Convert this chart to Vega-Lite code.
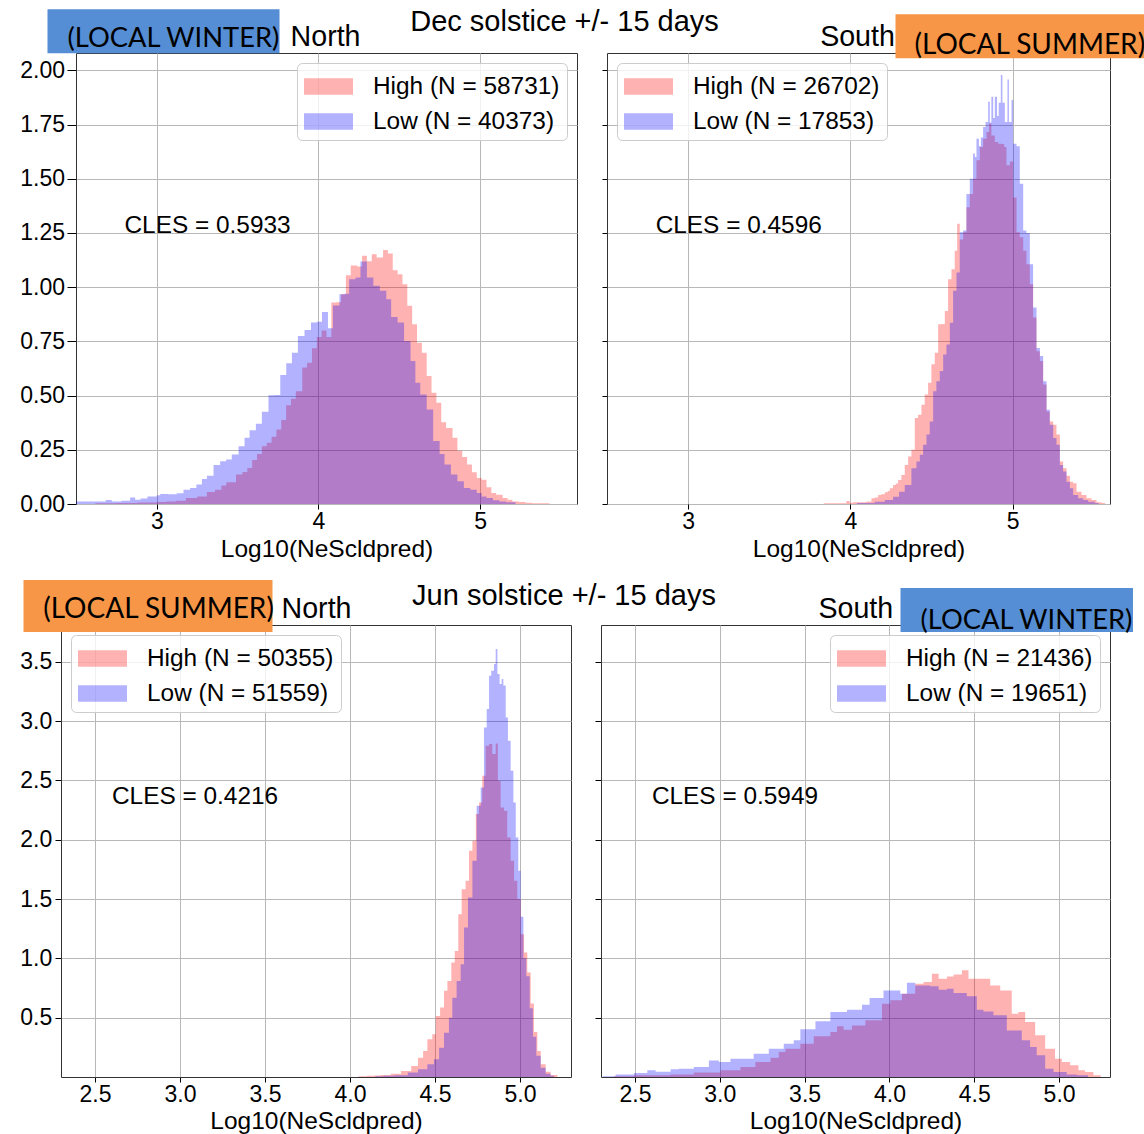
{
"$schema": "https://vega.github.io/schema/vega-lite/v6.json",
"padding": {"left": 19, "top": 7, "right": 0, "bottom": 0},
"background": "white",
"config": {
  "view": {"stroke": "#333333", "strokeWidth": 1},
  "axis": {"labelFont": "Liberation Sans", "labelFontSize": 23, "labelColor": "#000000", "titleFont": "Liberation Sans", "titleFontSize": 24.5, "titleFontWeight": "normal", "titleColor": "#000000", "tickColor": "#000000", "tickWidth": 1, "domain": false, "gridColor": "#b8b8b8", "gridWidth": 1, "gridOpacity": 1, "labelFlush": false, "labelOverlap": false},
  "legend": {"offset": 10, "padding": 7, "rowPadding": 7, "labelFontSize": 24.4, "labelFont": "Liberation Sans", "labelColor": "#000000", "symbolOpacity": 0.3, "symbolStrokeWidth": 0, "symbolOffset": 8, "labelOffset": 28, "fillColor": "rgba(255,255,255,0.8)", "strokeColor": "#cccccc", "cornerRadius": 5, "title": null, "labelLimit": 400},
  "text": {"font": "Liberation Sans", "color": "#000000"}
},
"datasets": {
  "tlH": [{"x":2.62,"y":0.003},{"x":2.75,"y":0.005},{"x":2.88,"y":0.007},{"x":3.0,"y":0.009},{"x":3.06,"y":0.012},{"x":3.12,"y":0.015},{"x":3.18,"y":0.028},{"x":3.25,"y":0.035},{"x":3.31,"y":0.055},{"x":3.36,"y":0.066},{"x":3.40,"y":0.085},{"x":3.43,"y":0.10},{"x":3.49,"y":0.136},{"x":3.53,"y":0.148},{"x":3.56,"y":0.166},{"x":3.59,"y":0.203},{"x":3.62,"y":0.231},{"x":3.65,"y":0.266},{"x":3.68,"y":0.282},{"x":3.71,"y":0.31},{"x":3.74,"y":0.344},{"x":3.77,"y":0.387},{"x":3.80,"y":0.456},{"x":3.83,"y":0.485},{"x":3.86,"y":0.52},{"x":3.90,"y":0.629},{"x":3.93,"y":0.652},{"x":3.96,"y":0.718},{"x":3.99,"y":0.77},{"x":4.02,"y":0.80},{"x":4.05,"y":0.77},{"x":4.08,"y":0.929},{"x":4.11,"y":0.93},{"x":4.14,"y":0.967},{"x":4.17,"y":1.055},{"x":4.20,"y":1.10},{"x":4.24,"y":1.095},{"x":4.27,"y":1.145},{"x":4.30,"y":1.12},{"x":4.33,"y":1.152},{"x":4.36,"y":1.137},{"x":4.40,"y":1.172},{"x":4.43,"y":1.155},{"x":4.46,"y":1.078},{"x":4.49,"y":1.06},{"x":4.52,"y":1.013},{"x":4.55,"y":0.914},{"x":4.58,"y":0.829},{"x":4.61,"y":0.744},{"x":4.64,"y":0.698},{"x":4.67,"y":0.59},{"x":4.70,"y":0.513},{"x":4.73,"y":0.467},{"x":4.76,"y":0.377},{"x":4.79,"y":0.351},{"x":4.83,"y":0.305},{"x":4.86,"y":0.246},{"x":4.89,"y":0.217},{"x":4.92,"y":0.182},{"x":4.95,"y":0.146},{"x":4.98,"y":0.12},{"x":5.01,"y":0.112},{"x":5.04,"y":0.077},{"x":5.07,"y":0.051},{"x":5.10,"y":0.043},{"x":5.14,"y":0.028},{"x":5.17,"y":0.02},{"x":5.20,"y":0.012},{"x":5.24,"y":0.009},{"x":5.28,"y":0.006},{"x":5.32,"y":0.004},{"x":5.43,"y":0}],
  "tlL": [{"x":2.50,"y":0.012},{"x":2.684,"y":0.018},{"x":2.721,"y":0.012},{"x":2.78,"y":0.015},{"x":2.835,"y":0.03},{"x":2.866,"y":0.02},{"x":2.90,"y":0.025},{"x":2.942,"y":0.035},{"x":3.0,"y":0.04},{"x":3.021,"y":0.046},{"x":3.07,"y":0.045},{"x":3.124,"y":0.05},{"x":3.165,"y":0.066},{"x":3.206,"y":0.074},{"x":3.245,"y":0.09},{"x":3.279,"y":0.115},{"x":3.31,"y":0.13},{"x":3.351,"y":0.18},{"x":3.392,"y":0.197},{"x":3.429,"y":0.205},{"x":3.464,"y":0.228},{"x":3.506,"y":0.266},{"x":3.543,"y":0.305},{"x":3.574,"y":0.34},{"x":3.613,"y":0.37},{"x":3.65,"y":0.425},{"x":3.691,"y":0.502},{"x":3.727,"y":0.503},{"x":3.764,"y":0.595},{"x":3.801,"y":0.649},{"x":3.836,"y":0.698},{"x":3.873,"y":0.775},{"x":3.914,"y":0.803},{"x":3.954,"y":0.837},{"x":3.99,"y":0.84},{"x":4.022,"y":0.886},{"x":4.059,"y":0.81},{"x":4.09,"y":0.915},{"x":4.13,"y":0.967},{"x":4.16,"y":0.97},{"x":4.19,"y":1.037},{"x":4.23,"y":1.045},{"x":4.26,"y":1.118},{"x":4.30,"y":1.045},{"x":4.34,"y":1.006},{"x":4.38,"y":0.983},{"x":4.42,"y":0.944},{"x":4.45,"y":0.863},{"x":4.49,"y":0.837},{"x":4.53,"y":0.752},{"x":4.57,"y":0.659},{"x":4.60,"y":0.559},{"x":4.63,"y":0.505},{"x":4.67,"y":0.436},{"x":4.71,"y":0.29},{"x":4.75,"y":0.231},{"x":4.78,"y":0.182},{"x":4.82,"y":0.136},{"x":4.86,"y":0.105},{"x":4.90,"y":0.074},{"x":4.94,"y":0.066},{"x":4.98,"y":0.051},{"x":5.01,"y":0.035},{"x":5.04,"y":0.028},{"x":5.08,"y":0.017},{"x":5.12,"y":0.012},{"x":5.16,"y":0.008},{"x":5.22,"y":0}],
  "trH": [{"x":3.836,"y":0.003},{"x":3.95,"y":0.004},{"x":3.975,"y":0.014},{"x":3.995,"y":0.006},{"x":4.016,"y":0.008},{"x":4.10,"y":0.012},{"x":4.13,"y":0.026},{"x":4.15,"y":0.03},{"x":4.171,"y":0.042},{"x":4.19,"y":0.045},{"x":4.212,"y":0.054},{"x":4.23,"y":0.06},{"x":4.243,"y":0.073},{"x":4.263,"y":0.088},{"x":4.28,"y":0.095},{"x":4.294,"y":0.111},{"x":4.314,"y":0.134},{"x":4.335,"y":0.18},{"x":4.356,"y":0.219},{"x":4.376,"y":0.25},{"x":4.397,"y":0.397},{"x":4.417,"y":0.412},{"x":4.438,"y":0.458},{"x":4.458,"y":0.505},{"x":4.479,"y":0.559},{"x":4.499,"y":0.644},{"x":4.52,"y":0.698},{"x":4.541,"y":0.829},{"x":4.561,"y":0.83},{"x":4.582,"y":0.89},{"x":4.602,"y":1.037},{"x":4.623,"y":1.083},{"x":4.643,"y":1.168},{"x":4.658,"y":1.292},{"x":4.674,"y":1.22},{"x":4.695,"y":1.253},{"x":4.715,"y":1.369},{"x":4.736,"y":1.43},{"x":4.756,"y":1.5},{"x":4.777,"y":1.585},{"x":4.798,"y":1.647},{"x":4.818,"y":1.685},{"x":4.839,"y":1.716},{"x":4.855,"y":1.755},{"x":4.869,"y":1.70},{"x":4.89,"y":1.67},{"x":4.911,"y":1.662},{"x":4.931,"y":1.66},{"x":4.948,"y":1.647},{"x":4.962,"y":1.562},{"x":4.983,"y":1.58},{"x":5.003,"y":1.414},{"x":5.024,"y":1.253},{"x":5.044,"y":1.23},{"x":5.065,"y":1.168},{"x":5.085,"y":1.106},{"x":5.106,"y":1.014},{"x":5.126,"y":0.86},{"x":5.147,"y":0.705},{"x":5.168,"y":0.659},{"x":5.188,"y":0.551},{"x":5.209,"y":0.427},{"x":5.229,"y":0.381},{"x":5.25,"y":0.366},{"x":5.27,"y":0.32},{"x":5.291,"y":0.196},{"x":5.311,"y":0.165},{"x":5.332,"y":0.13},{"x":5.353,"y":0.103},{"x":5.373,"y":0.096},{"x":5.394,"y":0.057},{"x":5.424,"y":0.042},{"x":5.455,"y":0.026},{"x":5.486,"y":0.018},{"x":5.517,"y":0.008},{"x":5.548,"y":0.005},{"x":5.57,"y":0}],
  "trL": [{"x":4.04,"y":0.005},{"x":4.13,"y":0.005},{"x":4.15,"y":0.01},{"x":4.212,"y":0.018},{"x":4.263,"y":0.034},{"x":4.30,"y":0.057},{"x":4.335,"y":0.088},{"x":4.376,"y":0.165},{"x":4.407,"y":0.196},{"x":4.428,"y":0.227},{"x":4.448,"y":0.273},{"x":4.469,"y":0.32},{"x":4.489,"y":0.381},{"x":4.51,"y":0.52},{"x":4.53,"y":0.566},{"x":4.551,"y":0.613},{"x":4.572,"y":0.69},{"x":4.592,"y":0.736},{"x":4.613,"y":0.836},{"x":4.633,"y":0.983},{"x":4.654,"y":1.068},{"x":4.674,"y":1.253},{"x":4.695,"y":1.261},{"x":4.715,"y":1.43},{"x":4.736,"y":1.5},{"x":4.756,"y":1.616},{"x":4.767,"y":1.60},{"x":4.777,"y":1.685},{"x":4.792,"y":1.65},{"x":4.804,"y":1.69},{"x":4.818,"y":1.739},{"x":4.833,"y":1.762},{"x":4.849,"y":1.855},{"x":4.859,"y":1.76},{"x":4.869,"y":1.878},{"x":4.88,"y":1.78},{"x":4.89,"y":1.878},{"x":4.904,"y":1.79},{"x":4.914,"y":1.85},{"x":4.927,"y":1.978},{"x":4.937,"y":1.85},{"x":4.952,"y":1.762},{"x":4.968,"y":1.958},{"x":4.977,"y":1.762},{"x":4.993,"y":1.863},{"x":5.003,"y":1.662},{"x":5.024,"y":1.65},{"x":5.044,"y":1.477},{"x":5.065,"y":1.261},{"x":5.085,"y":1.25},{"x":5.106,"y":1.106},{"x":5.126,"y":0.906},{"x":5.147,"y":0.72},{"x":5.168,"y":0.682},{"x":5.188,"y":0.566},{"x":5.209,"y":0.435},{"x":5.229,"y":0.366},{"x":5.25,"y":0.304},{"x":5.27,"y":0.273},{"x":5.291,"y":0.18},{"x":5.311,"y":0.15},{"x":5.332,"y":0.103},{"x":5.353,"y":0.073},{"x":5.373,"y":0.042},{"x":5.404,"y":0.026},{"x":5.435,"y":0.018},{"x":5.465,"y":0.01},{"x":5.506,"y":0.005},{"x":5.53,"y":0}],
  "blH": [{"x":4.05,"y":0.006},{"x":4.10,"y":0.01},{"x":4.14,"y":0.012},{"x":4.18,"y":0.017},{"x":4.24,"y":0.028},{"x":4.30,"y":0.05},{"x":4.36,"y":0.093},{"x":4.40,"y":0.163},{"x":4.43,"y":0.219},{"x":4.455,"y":0.318},{"x":4.484,"y":0.36},{"x":4.504,"y":0.515},{"x":4.53,"y":0.585},{"x":4.553,"y":0.726},{"x":4.573,"y":0.81},{"x":4.596,"y":0.965},{"x":4.616,"y":1.063},{"x":4.637,"y":1.372},{"x":4.657,"y":1.583},{"x":4.68,"y":1.654},{"x":4.70,"y":1.907},{"x":4.72,"y":1.991},{"x":4.74,"y":2.216},{"x":4.759,"y":2.314},{"x":4.778,"y":2.539},{"x":4.798,"y":2.792},{"x":4.818,"y":2.806},{"x":4.837,"y":2.722},{"x":4.857,"y":2.812},{"x":4.87,"y":2.497},{"x":4.886,"y":2.272},{"x":4.906,"y":2.244},{"x":4.925,"y":2.019},{"x":4.945,"y":1.822},{"x":4.965,"y":1.654},{"x":4.984,"y":1.50},{"x":5.004,"y":1.204},{"x":5.024,"y":1.05},{"x":5.043,"y":0.88},{"x":5.063,"y":0.62},{"x":5.082,"y":0.38},{"x":5.102,"y":0.219},{"x":5.122,"y":0.107},{"x":5.151,"y":0.045},{"x":5.18,"y":0.017},{"x":5.22,"y":0}],
  "blL": [{"x":4.15,"y":0.006},{"x":4.20,"y":0.011},{"x":4.26,"y":0.015},{"x":4.34,"y":0.037},{"x":4.40,"y":0.065},{"x":4.455,"y":0.107},{"x":4.494,"y":0.149},{"x":4.524,"y":0.247},{"x":4.553,"y":0.374},{"x":4.582,"y":0.50},{"x":4.602,"y":0.669},{"x":4.627,"y":0.81},{"x":4.651,"y":0.95},{"x":4.671,"y":1.26},{"x":4.694,"y":1.513},{"x":4.72,"y":1.822},{"x":4.745,"y":2.286},{"x":4.769,"y":2.441},{"x":4.788,"y":2.947},{"x":4.804,"y":3.102},{"x":4.818,"y":3.383},{"x":4.831,"y":3.425},{"x":4.847,"y":3.481},{"x":4.857,"y":3.608},{"x":4.867,"y":3.397},{"x":4.88,"y":3.313},{"x":4.892,"y":3.355},{"x":4.902,"y":3.299},{"x":4.916,"y":3.031},{"x":4.929,"y":2.835},{"x":4.945,"y":2.582},{"x":4.961,"y":2.314},{"x":4.975,"y":2.019},{"x":4.99,"y":1.738},{"x":5.004,"y":1.35},{"x":5.02,"y":1.0},{"x":5.037,"y":0.85},{"x":5.057,"y":0.58},{"x":5.076,"y":0.34},{"x":5.096,"y":0.18},{"x":5.122,"y":0.079},{"x":5.151,"y":0.028},{"x":5.18,"y":0.011},{"x":5.2,"y":0}],
  "brH": [{"x":2.376,"y":0.006},{"x":2.494,"y":0.014},{"x":2.71,"y":0.022},{"x":2.847,"y":0.037},{"x":3.004,"y":0.056},{"x":3.122,"y":0.084},{"x":3.21,"y":0.126},{"x":3.299,"y":0.163},{"x":3.348,"y":0.211},{"x":3.387,"y":0.239},{"x":3.475,"y":0.281},{"x":3.554,"y":0.343},{"x":3.652,"y":0.379},{"x":3.691,"y":0.427},{"x":3.73,"y":0.399},{"x":3.779,"y":0.435},{"x":3.858,"y":0.478},{"x":3.956,"y":0.618},{"x":4.005,"y":0.646},{"x":4.074,"y":0.702},{"x":4.152,"y":0.787},{"x":4.201,"y":0.80},{"x":4.25,"y":0.871},{"x":4.29,"y":0.829},{"x":4.339,"y":0.848},{"x":4.378,"y":0.865},{"x":4.427,"y":0.899},{"x":4.466,"y":0.829},{"x":4.505,"y":0.829},{"x":4.594,"y":0.772},{"x":4.653,"y":0.73},{"x":4.721,"y":0.534},{"x":4.76,"y":0.548},{"x":4.80,"y":0.463},{"x":4.859,"y":0.351},{"x":4.918,"y":0.239},{"x":4.976,"y":0.154},{"x":5.016,"y":0.126},{"x":5.065,"y":0.098},{"x":5.114,"y":0.056},{"x":5.153,"y":0.042},{"x":5.202,"y":0.014},{"x":5.245,"y":0}],
  "brL": [{"x":2.31,"y":0.006},{"x":2.386,"y":0.022},{"x":2.494,"y":0.034},{"x":2.573,"y":0.056},{"x":2.622,"y":0.045},{"x":2.71,"y":0.065},{"x":2.759,"y":0.07},{"x":2.847,"y":0.084},{"x":2.936,"y":0.14},{"x":2.995,"y":0.126},{"x":3.063,"y":0.154},{"x":3.20,"y":0.197},{"x":3.289,"y":0.239},{"x":3.377,"y":0.281},{"x":3.436,"y":0.309},{"x":3.475,"y":0.402},{"x":3.564,"y":0.469},{"x":3.652,"y":0.548},{"x":3.75,"y":0.567},{"x":3.838,"y":0.61},{"x":3.883,"y":0.666},{"x":3.965,"y":0.73},{"x":4.064,"y":0.702},{"x":4.103,"y":0.795},{"x":4.152,"y":0.772},{"x":4.24,"y":0.764},{"x":4.29,"y":0.736},{"x":4.339,"y":0.744},{"x":4.378,"y":0.708},{"x":4.456,"y":0.68},{"x":4.515,"y":0.567},{"x":4.554,"y":0.553},{"x":4.613,"y":0.52},{"x":4.692,"y":0.393},{"x":4.78,"y":0.309},{"x":4.829,"y":0.253},{"x":4.868,"y":0.183},{"x":4.918,"y":0.07},{"x":4.967,"y":0.042},{"x":5.045,"y":0.022},{"x":5.104,"y":0.014},{"x":5.17,"y":0}]
},
"resolve": {"scale": {"x": "independent", "y": "independent", "color": "independent"}, "legend": {"color": "independent"}},
"spacing": 17,
"vconcat": [
 {
  "hconcat": [
   {"width": 15, "height": 451, "view": {"stroke": null}, "data": {"values": []}, "mark": "rect", "encoding": {}},
   {
    "hconcat": [
     {
      "width": 501, "height": 451,
      "layer": [
       {"data": {"name": "tlH"}, "mark": {"type": "area", "interpolate": "step-after", "opacity": 0.3},
        "encoding": {
         "x": {"field": "x", "type": "quantitative", "scale": {"domain": [2.5, 5.6], "nice": false, "zero": false}, "axis": {"values": [3, 4, 5], "format": "d", "title": "Log10(NeScldpred)", "tickSize": 5, "labelPadding": 1.6, "titlePadding": 3.9}},
         "y": {"field": "y", "type": "quantitative", "stack": null, "scale": {"domain": [0, 2.08], "nice": false}, "axis": {"values": [0, 0.25, 0.5, 0.75, 1.0, 1.25, 1.5, 1.75, 2.0], "format": ".2f", "title": null, "tickSize": 9, "labelPadding": 2.5}},
         "color": {"datum": "High (N = 58731)", "scale": {"domain": ["High (N = 58731)", "Low (N = 40373)"], "range": ["#ff0000", "#0000ff"]}, "legend": {"orient": "top-right", "symbolType": "M-1.5,-0.5H1.5V0.5H-1.5Z", "symbolSize": 1067}}
        }},
       {"data": {"name": "tlL"}, "mark": {"type": "area", "interpolate": "step-after", "opacity": 0.3},
        "encoding": {
         "x": {"field": "x", "type": "quantitative", "scale": {"domain": [2.5, 5.6], "nice": false, "zero": false}},
         "y": {"field": "y", "type": "quantitative", "stack": null, "scale": {"domain": [0, 2.08], "nice": false}},
         "color": {"datum": "Low (N = 40373)"}
        }},
       {"data": {"values": [{"x": 2.3236, "x2": 3.7593, "y": 2.282, "y2": 2.079}]}, "mark": {"type": "rect", "color": "#558ED5"},
        "encoding": {"x": {"field": "x", "type": "quantitative"}, "x2": {"field": "x2"}, "y": {"field": "y", "type": "quantitative"}, "y2": {"field": "y2"}}},
       {"data": {"values": [{"x": 2.4474, "y": 2.1066, "t": "(LOCAL WINTER)"}]}, "mark": {"type": "text", "font": "Lato", "fontSize": 27.3, "align": "left", "baseline": "alphabetic"},
        "encoding": {"x": {"field": "x", "type": "quantitative"}, "y": {"field": "y", "type": "quantitative"}, "text": {"field": "t"}}},
       {"data": {"values": [{"x": 4.044, "y": 2.1112, "t": "North", "s": 28.6}, {"x": 5.5229, "y": 2.1803, "t": "Dec solstice +/- 15 days", "s": 29}]}, "mark": {"type": "text", "align": "center", "baseline": "alphabetic"},
        "encoding": {"x": {"field": "x", "type": "quantitative"}, "y": {"field": "y", "type": "quantitative"}, "text": {"field": "t"}, "size": {"field": "s", "type": "quantitative", "scale": null, "legend": null}}},
       {"data": {"values": [{"x": 2.8, "y": 1.25, "t": "CLES = 0.5933"}]}, "mark": {"type": "text", "fontSize": 24.4, "align": "left", "baseline": "alphabetic"},
        "encoding": {"x": {"field": "x", "type": "quantitative"}, "y": {"field": "y", "type": "quantitative"}, "text": {"field": "t"}}}
      ]
     },
     {
      "width": 503, "height": 451,
      "layer": [
       {"data": {"name": "trH"}, "mark": {"type": "area", "interpolate": "step-after", "opacity": 0.3},
        "encoding": {
         "x": {"field": "x", "type": "quantitative", "scale": {"domain": [2.5, 5.6], "nice": false, "zero": false}, "axis": {"values": [3, 4, 5], "format": "d", "title": "Log10(NeScldpred)", "tickSize": 5, "labelPadding": 1.6, "titlePadding": 3.9}},
         "y": {"field": "y", "type": "quantitative", "stack": null, "scale": {"domain": [0, 2.08], "nice": false}, "axis": {"values": [0, 0.25, 0.5, 0.75, 1.0, 1.25, 1.5, 1.75, 2.0], "labels": false, "title": null, "tickSize": 5}},
         "color": {"datum": "High (N = 26702)", "scale": {"domain": ["High (N = 26702)", "Low (N = 17853)"], "range": ["#ff0000", "#0000ff"]}, "legend": {"orient": "top-left", "symbolType": "M-1.5,-0.5H1.5V0.5H-1.5Z", "symbolSize": 1067}}
        }},
       {"data": {"name": "trL"}, "mark": {"type": "area", "interpolate": "step-after", "opacity": 0.3},
        "encoding": {
         "x": {"field": "x", "type": "quantitative", "scale": {"domain": [2.5, 5.6], "nice": false, "zero": false}},
         "y": {"field": "y", "type": "quantitative", "stack": null, "scale": {"domain": [0, 2.08], "nice": false}},
         "color": {"datum": "Low (N = 17853)"}
        }},
       {"data": {"values": [{"x": 4.278, "x2": 5.8095, "y": 2.2588, "y2": 2.0558}]}, "mark": {"type": "rect", "color": "#F79646"},
        "encoding": {"x": {"field": "x", "type": "quantitative"}, "x2": {"field": "x2"}, "y": {"field": "y", "type": "quantitative"}, "y2": {"field": "y2"}}},
       {"data": {"values": [{"x": 4.395, "y": 2.0756, "t": "(LOCAL SUMMER)"}]}, "mark": {"type": "text", "font": "Lato", "fontSize": 28, "align": "left", "baseline": "alphabetic"},
        "encoding": {"x": {"field": "x", "type": "quantitative"}, "y": {"field": "y", "type": "quantitative"}, "text": {"field": "t"}}},
       {"data": {"values": [{"x": 4.0438, "y": 2.1135, "t": "South"}]}, "mark": {"type": "text", "fontSize": 28.6, "align": "center", "baseline": "alphabetic"},
        "encoding": {"x": {"field": "x", "type": "quantitative"}, "y": {"field": "y", "type": "quantitative"}, "text": {"field": "t"}}},
       {"data": {"values": [{"x": 2.8, "y": 1.25, "t": "CLES = 0.4596"}]}, "mark": {"type": "text", "fontSize": 24.4, "align": "left", "baseline": "alphabetic"},
        "encoding": {"x": {"field": "x", "type": "quantitative"}, "y": {"field": "y", "type": "quantitative"}, "text": {"field": "t"}}}
      ]
     }
    ],
    "spacing": 30,
    "bounds": "flush",
    "resolve": {"scale": {"x": "independent", "y": "independent", "color": "independent"}, "legend": {"color": "independent"}}
   }
  ],
  "spacing": 0,
  "bounds": "flush",
  "resolve": {"scale": {"x": "independent", "y": "independent", "color": "independent"}, "legend": {"color": "independent"}}
 },
 {
  "hconcat": [
   {
    "width": 510, "height": 452,
    "layer": [
     {"data": {"name": "blH"}, "mark": {"type": "area", "interpolate": "step-after", "opacity": 0.3},
      "encoding": {
       "x": {"field": "x", "type": "quantitative", "scale": {"domain": [2.3, 5.3], "nice": false, "zero": false}, "axis": {"values": [2.5, 3.0, 3.5, 4.0, 4.5, 5.0], "format": ".1f", "title": "Log10(NeScldpred)", "tickSize": 5, "labelPadding": 1.5, "titlePadding": 2.9}},
       "y": {"field": "y", "type": "quantitative", "stack": null, "scale": {"domain": [0, 3.81], "nice": false}, "axis": {"values": [0.5, 1.0, 1.5, 2.0, 2.5, 3.0, 3.5], "format": ".1f", "title": null, "tickSize": 6, "labelPadding": 3.3}},
       "color": {"datum": "High (N = 50355)", "scale": {"domain": ["High (N = 50355)", "Low (N = 51559)"], "range": ["#ff0000", "#0000ff"]}, "legend": {"orient": "top-left", "symbolType": "M-1.5,-0.5H1.5V0.5H-1.5Z", "symbolSize": 1067}}
      }},
     {"data": {"name": "blL"}, "mark": {"type": "area", "interpolate": "step-after", "opacity": 0.3},
      "encoding": {
       "x": {"field": "x", "type": "quantitative", "scale": {"domain": [2.3, 5.3], "nice": false, "zero": false}},
       "y": {"field": "y", "type": "quantitative", "stack": null, "scale": {"domain": [0, 3.81], "nice": false}},
       "color": {"datum": "Low (N = 51559)"}
      }},
     {"data": {"values": [{"x": 2.0794, "x2": 3.5441, "y": 4.1891, "y2": 3.7508}]}, "mark": {"type": "rect", "color": "#F79646"},
      "encoding": {"x": {"field": "x", "type": "quantitative"}, "x2": {"field": "x2"}, "y": {"field": "y", "type": "quantitative"}, "y2": {"field": "y2"}}},
     {"data": {"values": [{"x": 2.1953, "y": 3.8663, "t": "(LOCAL SUMMER)"}]}, "mark": {"type": "text", "font": "Lato", "fontSize": 28, "align": "left", "baseline": "alphabetic"},
      "encoding": {"x": {"field": "x", "type": "quantitative"}, "y": {"field": "y", "type": "quantitative"}, "text": {"field": "t"}}},
     {"data": {"values": [{"x": 3.803, "y": 3.8689, "t": "North", "s": 28.6}, {"x": 5.2588, "y": 3.9784, "t": "Jun solstice +/- 15 days", "s": 29}]}, "mark": {"type": "text", "align": "center", "baseline": "alphabetic"},
      "encoding": {"x": {"field": "x", "type": "quantitative"}, "y": {"field": "y", "type": "quantitative"}, "text": {"field": "t"}, "size": {"field": "s", "type": "quantitative", "scale": null, "legend": null}}},
     {"data": {"values": [{"x": 2.6, "y": 2.3, "t": "CLES = 0.4216"}]}, "mark": {"type": "text", "fontSize": 24.4, "align": "left", "baseline": "alphabetic"},
      "encoding": {"x": {"field": "x", "type": "quantitative"}, "y": {"field": "y", "type": "quantitative"}, "text": {"field": "t"}}}
    ]
   },
   {
    "width": 509, "height": 452,
    "layer": [
     {"data": {"name": "brH"}, "mark": {"type": "area", "interpolate": "step-after", "opacity": 0.3},
      "encoding": {
       "x": {"field": "x", "type": "quantitative", "scale": {"domain": [2.3, 5.3], "nice": false, "zero": false}, "axis": {"values": [2.5, 3.0, 3.5, 4.0, 4.5, 5.0], "format": ".1f", "title": "Log10(NeScldpred)", "tickSize": 5, "labelPadding": 1.5, "titlePadding": 2.9}},
       "y": {"field": "y", "type": "quantitative", "stack": null, "scale": {"domain": [0, 3.81], "nice": false}, "axis": {"values": [0.5, 1.0, 1.5, 2.0, 2.5, 3.0, 3.5], "labels": false, "title": null, "tickSize": 6}},
       "color": {"datum": "High (N = 21436)", "scale": {"domain": ["High (N = 21436)", "Low (N = 19651)"], "range": ["#ff0000", "#0000ff"]}, "legend": {"orient": "top-right", "symbolType": "M-1.5,-0.5H1.5V0.5H-1.5Z", "symbolSize": 1067}}
      }},
     {"data": {"name": "brL"}, "mark": {"type": "area", "interpolate": "step-after", "opacity": 0.3},
      "encoding": {
       "x": {"field": "x", "type": "quantitative", "scale": {"domain": [2.3, 5.3], "nice": false, "zero": false}},
       "y": {"field": "y", "type": "quantitative", "stack": null, "scale": {"domain": [0, 3.81], "nice": false}},
       "color": {"datum": "Low (N = 19651)"}
      }},
     {"data": {"values": [{"x": 4.0652, "x2": 5.4355, "y": 4.1217, "y2": 3.7508}]}, "mark": {"type": "rect", "color": "#558ED5"},
      "encoding": {"x": {"field": "x", "type": "quantitative"}, "x2": {"field": "x2"}, "y": {"field": "y", "type": "quantitative"}, "y2": {"field": "y2"}}},
     {"data": {"values": [{"x": 4.1831, "y": 3.7761, "t": "(LOCAL WINTER)"}]}, "mark": {"type": "text", "font": "Lato", "fontSize": 27.3, "align": "left", "baseline": "alphabetic"},
      "encoding": {"x": {"field": "x", "type": "quantitative"}, "y": {"field": "y", "type": "quantitative"}, "text": {"field": "t"}}},
     {"data": {"values": [{"x": 3.8017, "y": 3.8689, "t": "South"}]}, "mark": {"type": "text", "fontSize": 28.6, "align": "center", "baseline": "alphabetic"},
      "encoding": {"x": {"field": "x", "type": "quantitative"}, "y": {"field": "y", "type": "quantitative"}, "text": {"field": "t"}}},
     {"data": {"values": [{"x": 2.6, "y": 2.3, "t": "CLES = 0.5949"}]}, "mark": {"type": "text", "fontSize": 24.4, "align": "left", "baseline": "alphabetic"},
      "encoding": {"x": {"field": "x", "type": "quantitative"}, "y": {"field": "y", "type": "quantitative"}, "text": {"field": "t"}}}
    ]
   }
  ],
  "spacing": 30,
  "bounds": "flush",
  "resolve": {"scale": {"x": "independent", "y": "independent", "color": "independent"}, "legend": {"color": "independent"}}
 }
]
}
